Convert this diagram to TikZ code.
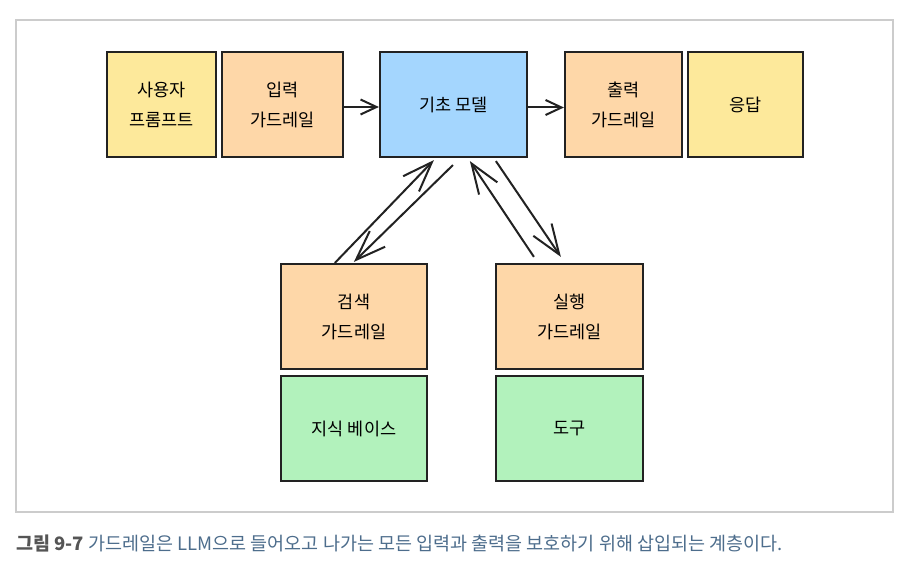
\documentclass[tikz,border=0pt]{standalone}
\usepackage{fontspec}
\setmainfont{Noto Sans CJK KR}
\usetikzlibrary{arrows.meta}
\definecolor{cyellow}{HTML}{FDE99B}
\definecolor{cpeach}{HTML}{FED7A8}
\definecolor{cblue}{HTML}{A4D6FE}
\definecolor{cgreen}{HTML}{B2F2BC}
\definecolor{cborder}{HTML}{222222}
\definecolor{cframe}{HTML}{CCCCCC}
\definecolor{capdark}{HTML}{555555}
\definecolor{capblue}{HTML}{4D6D8C}
\tikzset{
  blk/.style={draw=cborder, line width=2.2pt, align=center, inner sep=0pt,
    font=\fontsize{17.5}{30}\selectfont, text=black},
  harrow/.style={draw=cborder, line width=2pt, -{Straight Barb[length=16pt,width=15pt,line width=2pt]}},
  darrow/.style={draw=cborder, line width=2pt, -{Straight Barb[length=30pt,width=22pt,line width=2pt]}},
}
\begin{document}
\begin{tikzpicture}[x=1pt,y=-1pt]
\useasboundingbox[fill=white] (0,0) rectangle (902,561);
\draw[cframe, line width=1.2pt] (16,20) rectangle (893,512);

\node[blk, fill=cyellow, minimum width=109pt, minimum height=105pt] (user) at (161.5,104.5) {사용자\\프롬프트};
\node[blk, fill=cpeach, minimum width=121pt, minimum height=105pt] (ing) at (282.5,104.5) {입력\\가드레일};
\node[blk, fill=cblue, minimum width=147pt, minimum height=105pt] (model) at (453.5,104.5) {기초 모델};
\node[blk, fill=cpeach, minimum width=117pt, minimum height=105pt] (outg) at (623.5,104.5) {출력\\가드레일};
\node[blk, fill=cyellow, minimum width=115pt, minimum height=105pt] (resp) at (745.5,104.5) {응답};

\node[blk, fill=cpeach, minimum width=146pt, minimum height=105pt] (ret) at (354,316.5) {검색\\가드레일};
\node[blk, fill=cgreen, minimum width=146pt, minimum height=105pt] (kb) at (354,428.5) {지식 베이스};
\node[blk, fill=cpeach, minimum width=147pt, minimum height=105pt] (exe) at (569.5,316.5) {실행\\가드레일};
\node[blk, fill=cgreen, minimum width=147pt, minimum height=105pt] (tool) at (569.5,428.5) {도구};

\draw[harrow] ([shift={(0,2.5)}]ing.east) -- ([shift={(0,2.5)}]model.west);
\draw[harrow] ([shift={(0,3)}]model.east) -- ([shift={(0,3)}]outg.west);

\draw[darrow] ([shift={(55,0)}]ret.north west) -- ([shift={(55,2)}]model.south west);
\draw[darrow] ([shift={(74,7)}]model.south west) -- ([shift={(74,-1)}]ret.north west);
\draw[darrow] ([shift={(39,-6)}]exe.north west) -- ([shift={(91,3)}]model.south west);
\draw[darrow] ([shift={(117,3)}]model.south west) -- ([shift={(66,-6)}]exe.north west);

\node[anchor=west, inner sep=0pt, font=\fontsize{18.5}{22}\selectfont] (cap) at (16,543)
  {\textcolor{capdark}{\bfseries 그림 9-7} \textcolor{capblue}{가드레일은 LLM으로 들어오고 나가는 모든 입력과 출력을 보호하기 위해 삽입되는 계층이다.}};
\end{tikzpicture}
\end{document}
